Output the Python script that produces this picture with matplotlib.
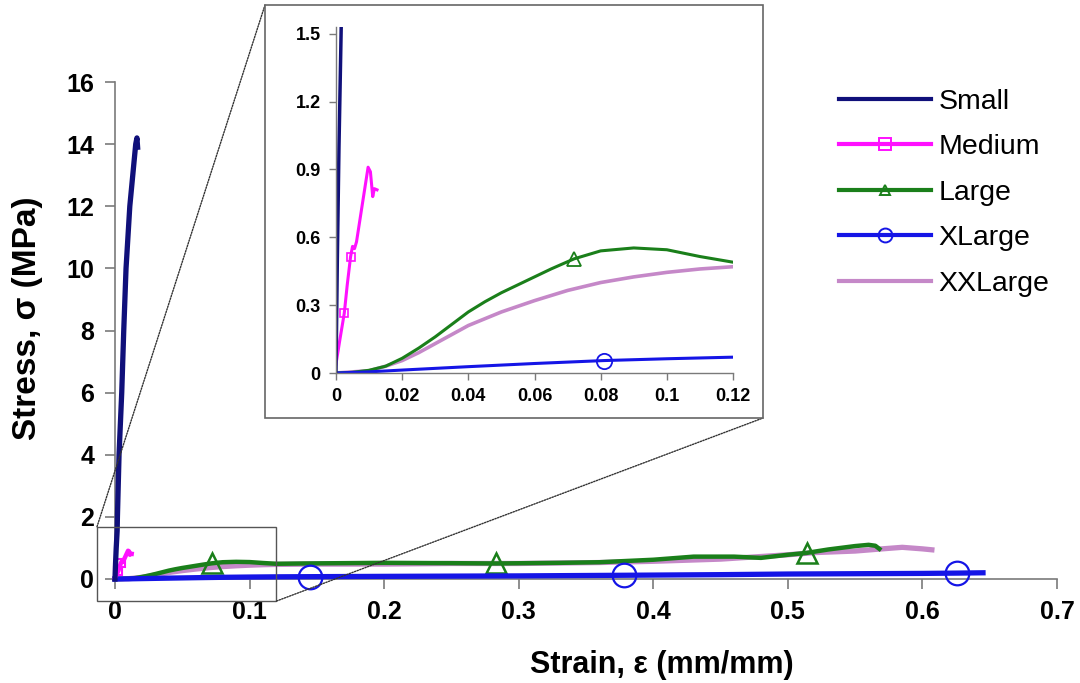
import numpy as np
import matplotlib
matplotlib.use("Agg")
import matplotlib.pyplot as plt
from matplotlib.lines import Line2D
from matplotlib.patches import Rectangle, ConnectionPatch

plt.rcParams['font.family'] = ['Liberation Sans', 'DejaVu Sans']

# ---------------- data (strain mm/mm, stress MPa) ----------------
small_x = [0, 0.0004, 0.0009, 0.0016, 0.0018, 0.003, 0.005, 0.0065, 0.0082, 0.011, 0.0154, 0.0163, 0.0168]
small_y = [0, 0.5, 1.0, 1.55, 2.0, 4.0, 6.0, 8.0, 10.0, 12.0, 14.0, 14.2, 13.9]

medium_x = [0, 0.0012, 0.0025, 0.0034, 0.0044, 0.005, 0.0056, 0.0062, 0.0080, 0.0097, 0.0104, 0.0111, 0.0116, 0.0124]
medium_y = [0.04, 0.15, 0.264, 0.39, 0.514, 0.56, 0.55, 0.58, 0.75, 0.91, 0.89, 0.78, 0.815, 0.81]

large_x = [0, 0.005, 0.01, 0.015, 0.02, 0.025, 0.03, 0.035, 0.04, 0.045, 0.05, 0.055, 0.06, 0.065,
           0.072, 0.08, 0.09, 0.1, 0.11, 0.12, 0.14, 0.2, 0.25, 0.283, 0.33, 0.36, 0.4, 0.43, 0.46,
           0.48, 0.5, 0.514, 0.53, 0.55, 0.56, 0.565, 0.568]
large_y = [0, 0.003, 0.012, 0.03, 0.065, 0.11, 0.16, 0.215, 0.27, 0.315, 0.355, 0.39, 0.425, 0.46,
           0.505, 0.54, 0.553, 0.545, 0.515, 0.49, 0.5, 0.52, 0.51, 0.5, 0.52, 0.54, 0.62, 0.72, 0.72,
           0.68, 0.78, 0.84, 0.95, 1.06, 1.1, 1.07, 0.97]

xlarge_x = [0, 0.01, 0.02, 0.04, 0.06, 0.081, 0.1, 0.12, 0.145, 0.2, 0.3, 0.378, 0.45, 0.5, 0.55, 0.6, 0.626, 0.645]
xlarge_y = [0, 0.005, 0.013, 0.028, 0.042, 0.055, 0.063, 0.07, 0.075, 0.085, 0.1, 0.12, 0.14, 0.16, 0.17, 0.18, 0.19, 0.2]

xxlarge_x = [0, 0.01, 0.015, 0.02, 0.025, 0.03, 0.04, 0.05, 0.06, 0.07, 0.08, 0.09, 0.1, 0.11, 0.12,
             0.15, 0.2, 0.25, 0.3, 0.36, 0.4, 0.45, 0.5, 0.52, 0.55, 0.57, 0.585, 0.6, 0.607]
xxlarge_y = [0, 0.01, 0.03, 0.055, 0.09, 0.13, 0.21, 0.27, 0.32, 0.365, 0.40, 0.425, 0.445, 0.46, 0.47,
             0.48, 0.48, 0.5, 0.5, 0.53, 0.57, 0.64, 0.78, 0.85, 0.9, 0.97, 1.02, 0.97, 0.94]

series_names = ["Small", "Medium", "Large", "XLarge", "XXLarge"]
colors = ["#10107a", "#ff10ff", "#1a7f1a", "#1515e6", "#c588c8"]

# strains at which markers are drawn
medium_marks = [0.0025, 0.0044]
large_marks_main = [0.072, 0.283, 0.514]
large_marks_inset = [0.072]
xlarge_marks_main = [0.145, 0.378, 0.626]
xlarge_marks_inset = [0.081]

main_xticks = [0, 0.1, 0.2, 0.3, 0.4, 0.5, 0.6, 0.7]
main_xticklabels = ["0", "0.1", "0.2", "0.3", "0.4", "0.5", "0.6", "0.7"]
main_yticks = [0, 2, 4, 6, 8, 10, 12, 14, 16]
inset_xticks = [0, 0.02, 0.04, 0.06, 0.08, 0.1, 0.12]
inset_xticklabels = ["0", "0.02", "0.04", "0.06", "0.08", "0.1", "0.12"]
inset_yticks = [0, 0.3, 0.6, 0.9, 1.2, 1.5]
inset_yticklabels = ["0", "0.3", "0.6", "0.9", "1.2", "1.5"]

zoom_x = (-0.0134, 0.12)
zoom_y = (-0.71, 1.68)

W, H = 1080, 683
fig = plt.figure(figsize=(W / 100, H / 100), dpi=100)

def idx(xs, marks):
    return [i for i, v in enumerate(xs) if any(abs(v - m) < 1e-9 for m in marks)]

spine_col = "#7a7a7a"

# ---------------- main axes ----------------
ax = fig.add_axes([115 / W, 1 - 579 / H, (1057 - 115) / W, (579 - 82) / H])
ax.set_xlim(0, 0.7)
ax.set_ylim(0, 16)
lw_main = 3.2
ax.plot(xxlarge_x, xxlarge_y, color=colors[4], lw=lw_main + 0.6, clip_on=False, zorder=3)
ax.plot(large_x, large_y, color=colors[2], lw=lw_main, clip_on=False, zorder=4,
        marker='^', ms=15, mfc='none', mec=colors[2], mew=1.8,
        markevery=idx(large_x, large_marks_main))
ax.plot(xlarge_x, xlarge_y, color=colors[3], lw=lw_main + 0.6, clip_on=False, zorder=5,
        marker='o', ms=17, mfc='none', mec=colors[3], mew=1.6,
        markevery=idx(xlarge_x, xlarge_marks_main))
ax.plot(medium_x, medium_y, color=colors[1], lw=lw_main, clip_on=False, zorder=6,
        marker='s', ms=6, mfc='none', mec=colors[1], mew=1.5,
        markevery=idx(medium_x, medium_marks))
ax.plot(small_x, small_y, color=colors[0], lw=lw_main + 0.6, clip_on=False, zorder=7)

for s in ['top', 'right']:
    ax.spines[s].set_visible(False)
for s in ['left', 'bottom']:
    ax.spines[s].set_color(spine_col)
    ax.spines[s].set_linewidth(1.2)
ax.set_xticks(main_xticks)
ax.set_xticklabels(main_xticklabels)
ax.set_yticks(main_yticks)
ax.tick_params(axis='both', direction='out', length=7, width=1.2, color=spine_col,
               labelsize=18, pad=8)
for lab in ax.get_xticklabels() + ax.get_yticklabels():
    lab.set_fontweight('bold')
ax.set_xlabel("Strain, ε (mm/mm)", fontsize=22, fontweight='bold')
ax.set_ylabel("Stress, σ (MPa)", fontsize=24, fontweight='bold')
ax.xaxis.set_label_coords(0.58, -0.143)
ax.yaxis.set_label_coords(-0.076, 0.525)

# zoom rectangle
ax.add_patch(Rectangle((zoom_x[0], zoom_y[0]), zoom_x[1] - zoom_x[0], zoom_y[1] - zoom_y[0],
                       fill=False, ec="#555555", lw=1.0, clip_on=False, zorder=8))

# ---------------- inset frame ----------------
frame = [265 / W, 1 - 418 / H, (763 - 265) / W, (418 - 5) / H]
fig.patches.append(Rectangle((frame[0], frame[1]), frame[2], frame[3], transform=fig.transFigure,
                             facecolor='white', edgecolor="#666666", lw=1.2, zorder=9))

# connecting dotted lines
for (xa, ya), (xf, yf) in [((zoom_x[0], zoom_y[1]), (frame[0], frame[1] + frame[3])),
                           ((zoom_x[1], zoom_y[0]), (frame[0] + frame[2], frame[1]))]:
    cp = ConnectionPatch(xyA=(xa, ya), coordsA=ax.transData, xyB=(xf, yf), coordsB=fig.transFigure,
                         linestyle=(0, (1, 1)), color="#333333", lw=1.0, zorder=8)
    fig.add_artist(cp)

# ---------------- inset axes ----------------
ai = fig.add_axes([336 / W, 1 - 373 / H, (733 - 336) / W, (373 - 27) / H], zorder=10)
ai.patch.set_alpha(0)
ai.set_xlim(0, 0.12)
ai.set_ylim(0, 1.53)
lw_in = 2.2
ai.plot(xxlarge_x, xxlarge_y, color=colors[4], lw=lw_in + 0.4)
ai.plot(large_x, large_y, color=colors[2], lw=lw_in,
        marker='^', ms=10, mfc='none', mec=colors[2], mew=1.3,
        markevery=idx(large_x, large_marks_inset))
ai.plot(xlarge_x, xlarge_y, color=colors[3], lw=lw_in,
        marker='o', ms=11, mfc='none', mec=colors[3], mew=1.3,
        markevery=idx(xlarge_x, xlarge_marks_inset))
ai.plot(medium_x, medium_y, color=colors[1], lw=lw_in,
        marker='s', ms=6, mfc='none', mec=colors[1], mew=1.2,
        markevery=idx(medium_x, medium_marks))
ai.plot(small_x, small_y, color=colors[0], lw=lw_in + 0.3)
for s in ['top', 'right']:
    ai.spines[s].set_visible(False)
for s in ['left', 'bottom']:
    ai.spines[s].set_color(spine_col)
    ai.spines[s].set_linewidth(1.0)
ai.set_xticks(inset_xticks)
ai.set_xticklabels(inset_xticklabels)
ai.set_yticks(inset_yticks)
ai.set_yticklabels(inset_yticklabels)
ai.tick_params(axis='both', direction='out', length=5, width=1.0, color=spine_col,
               labelsize=13, pad=6)
for lab in ai.get_xticklabels() + ai.get_yticklabels():
    lab.set_fontweight('bold')

# ---------------- legend ----------------
handles = [
    Line2D([], [], color=colors[0], lw=3),
    Line2D([], [], color=colors[1], lw=3, marker='s', ms=9, mfc='none', mec=colors[1], mew=1.4),
    Line2D([], [], color=colors[2], lw=3, marker='^', ms=7, mfc='none', mec=colors[2], mew=1.4),
    Line2D([], [], color=colors[3], lw=3, marker='o', ms=10, mfc='none', mec=colors[3], mew=1.4),
    Line2D([], [], color=colors[4], lw=3),
]
fig.legend(handles, series_names, loc='upper left', bbox_to_anchor=(820 / W, 1 - 70 / H),
           bbox_transform=fig.transFigure, frameon=False, fontsize=20.5,
           handlelength=3.25, handletextpad=0.27, labelspacing=0.69, borderpad=0.15)

fig.savefig("out.png", dpi=100)
